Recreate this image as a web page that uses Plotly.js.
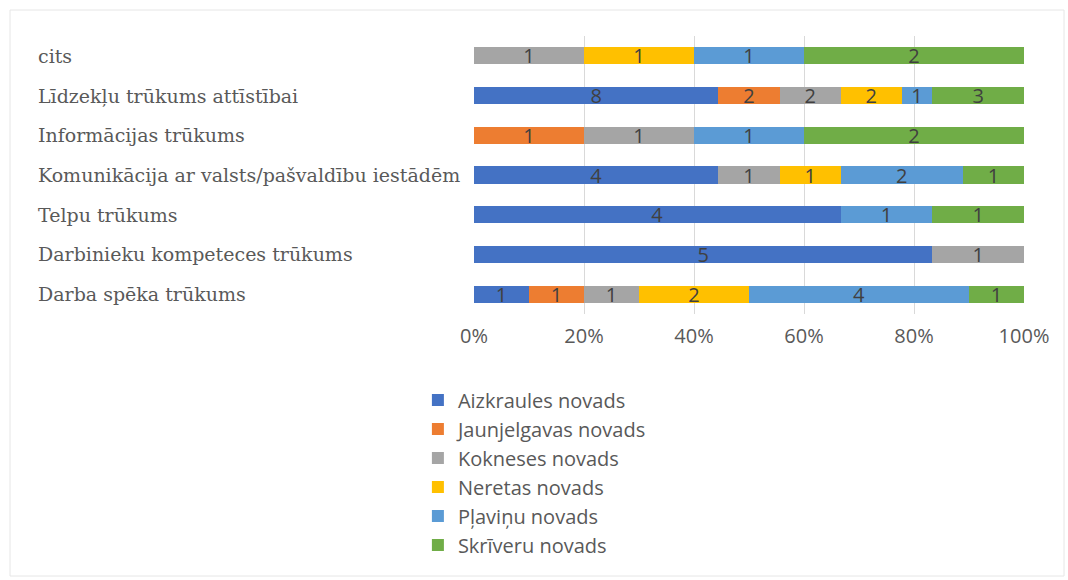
<!DOCTYPE html>
<html>
<head>
<meta charset="utf-8">
<script src="https://cdn.plot.ly/plotly-3.0.1.min.js"></script>
<style>
html,body{margin:0;padding:0;background:#fff;}
#chart{width:1068px;height:580px;}
</style>
</head>
<body>
<div id="chart"></div>
<script>
const categories = [
  "Darba spēka trūkums",
  "Darbinieku kompeteces trūkums",
  "Telpu trūkums",
  "Komunikācija ar valsts/pašvaldību iestādēm",
  "Informācijas trūkums",
  "Līdzekļu trūkums attīstībai",
  "cits"
];
const seriesNames = ["Aizkraules novads","Jaunjelgavas novads","Kokneses novads","Neretas novads","Pļaviņu novads","Skrīveru novads"];
const aizkraules   = [1, 5, 4, 4, null, 8, null];
const jaunjelgavas = [1, null, null, null, 1, 2, null];
const kokneses     = [1, 1, null, 1, 1, 2, 1];
const neretas      = [2, null, null, 1, null, 2, 1];
const plavinu      = [4, null, 1, 2, 1, 1, 1];
const skriveru     = [1, null, 1, 1, 2, 3, 2];
const tickVals = [0, 20, 40, 60, 80, 100];
const tickText = ["0%", "20%", "40%", "60%", "80%", "100%"];
const colors = ["#4472C4","#ED7D31","#A5A5A5","#FFC000","#5B9BD5","#70AD47"];

const allSeries = [aizkraules, jaunjelgavas, kokneses, neretas, plavinu, skriveru];
const traces = allSeries.map((vals, i) => ({
  type: "bar",
  orientation: "h",
  name: seriesNames[i],
  y: categories,
  x: vals,
  text: vals.map(v => v == null ? "" : String(v)),
  textposition: "inside",
  insidetextanchor: "middle",
  textangle: 0,
  constraintext: "none",
  textfont: {family: "Open Sans", size: 20, color: "#404040"},
  marker: {color: colors[i]},
  hoverinfo: "none",
  width: 0.43
}));

const annotations = categories.map(c => ({
  xref: "paper", yref: "y",
  x: -0.796, y: c,
  xanchor: "left", yanchor: "middle",
  text: c, showarrow: false,
  font: {family: "DejaVu Serif", size: 19, color: "#595959"}
}));

const layout = {
  width: 1068, height: 580,
  margin: {l: 474, r: 44, t: 36, b: 266},
  paper_bgcolor: "#ffffff",
  plot_bgcolor: "#ffffff",
  barmode: "stack",
  barnorm: "percent",
  showlegend: true,
  xaxis: {
    range: [0, 100],
    tickvals: tickVals, ticktext: tickText,
    showgrid: true, gridcolor: "#d9d9d9", gridwidth: 1,
    zeroline: false, showline: false,
    tickfont: {family: "Open Sans", size: 20, color: "#595959"},
    ticks: "outside", ticklen: 4, tickcolor: "rgba(0,0,0,0)",
    fixedrange: true
  },
  yaxis: {
    categoryorder: "array", categoryarray: categories,
    showticklabels: false, showgrid: false, zeroline: false,
    fixedrange: true
  },
  legend: {
    orientation: "v",
    x: -0.102, xanchor: "left",
    y: -0.239, yanchor: "top",
    traceorder: "normal",
    font: {family: "Open Sans", size: 20, color: "#595959"},
    itemwidth: 30,
    tracegroupgap: 0
  },
  annotations: annotations,
  shapes: [{
    type: "rect", xref: "paper", yref: "paper",
    x0: (10 - 474) / 550, x1: (1064 - 474) / 550,
    y0: (314 - 576) / 278, y1: (314 - 10) / 278,
    line: {color: "#e6e6e6", width: 1}, fillcolor: "rgba(0,0,0,0)", layer: "below"
  }]
};

Plotly.newPlot("chart", traces, layout, {displayModeBar: false, staticPlot: true});
</script>
</body>
</html>
